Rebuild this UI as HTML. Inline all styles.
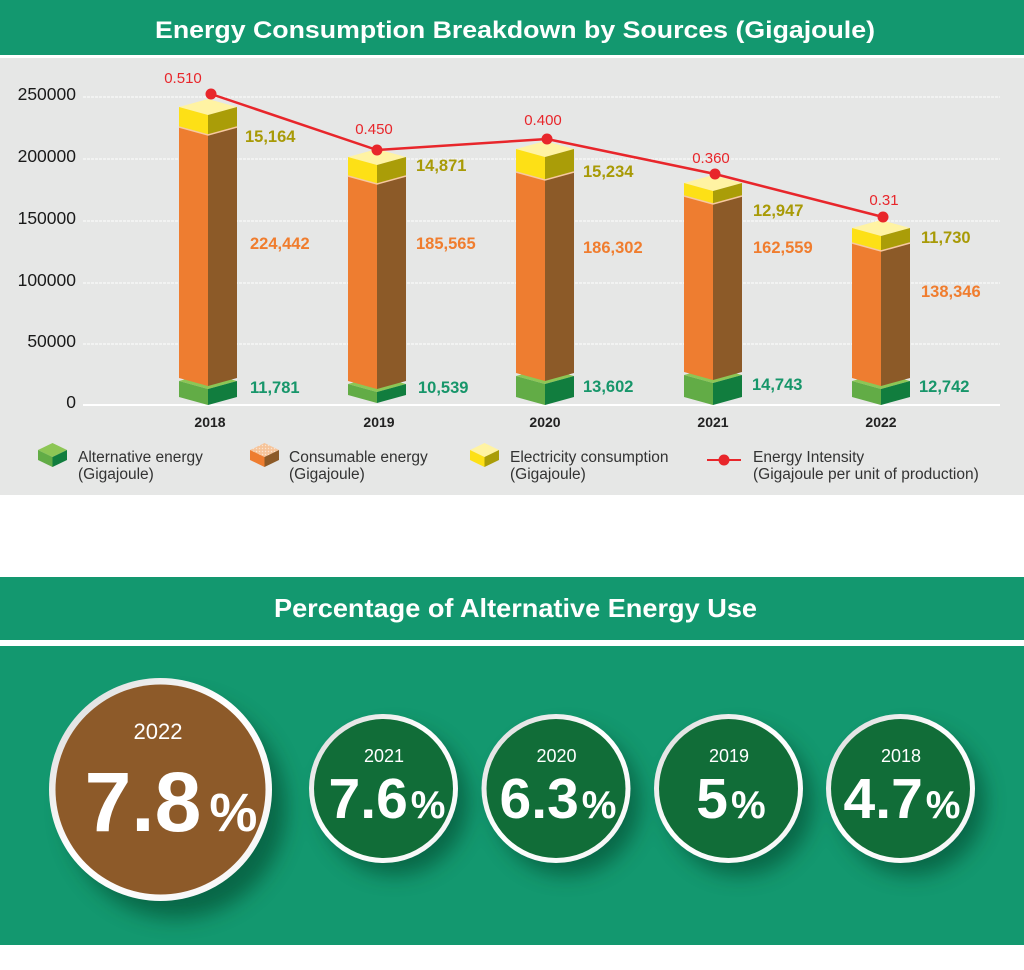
<!DOCTYPE html>
<html>
<head>
<meta charset="utf-8">
<style>
html,body{margin:0;padding:0;background:#fff;}
svg{display:block;}
text{font-family:"Liberation Sans",Arial,sans-serif;}
</style>
</head>
<body>
<svg width="1024" height="970" viewBox="0 0 1024 970" xmlns="http://www.w3.org/2000/svg">
<defs>
  <filter id="sh" x="-50%" y="-50%" width="200%" height="200%">
    <feGaussianBlur stdDeviation="10"/>
  </filter>
  <linearGradient id="ring" x1="0" y1="0" x2="1" y2="1">
    <stop offset="0" stop-color="#d6d6d6"/>
    <stop offset="0.45" stop-color="#ffffff"/>
    <stop offset="1" stop-color="#f4f4f4"/>
  </linearGradient>
  <pattern id="dots" width="3" height="3" patternUnits="userSpaceOnUse">
    <rect width="3" height="3" fill="#f6c49a"/>
    <circle cx="1.5" cy="1.5" r="0.7" fill="#fbe3cf"/>
  </pattern>
</defs>

<!-- Header 1 -->
<rect x="0" y="0" width="1024" height="55" fill="#13986f"/>
<text x="515" y="38" fill="#fff" font-size="24" font-weight="bold" text-anchor="middle" textLength="720" lengthAdjust="spacingAndGlyphs">Energy Consumption Breakdown by Sources (Gigajoule)</text>

<!-- Gray panel -->
<rect x="0" y="58" width="1024" height="437" fill="#e6e7e6"/>

<!-- Gridlines -->
<g stroke="#ffffff" stroke-width="1" stroke-dasharray="3,1">
  <line x1="83" y1="97" x2="1000" y2="97"/>
  <line x1="83" y1="159" x2="1000" y2="159"/>
  <line x1="83" y1="221" x2="1000" y2="221"/>
  <line x1="83" y1="283" x2="1000" y2="283"/>
  <line x1="83" y1="344" x2="1000" y2="344"/>
</g>
<line x1="83" y1="405" x2="1000" y2="405" stroke="#ffffff" stroke-width="2"/>

<!-- Y labels -->
<g font-size="17.5" fill="#1a1a1a" text-anchor="end">
  <text x="76" y="100">250000</text>
  <text x="76" y="162">200000</text>
  <text x="76" y="224">150000</text>
  <text x="76" y="286">100000</text>
  <text x="76" y="347">50000</text>
  <text x="76" y="408">0</text>
</g>

<!-- Bar 2018 -->
<g>
  <polygon points="179,381 208,373 237,381 208,389" fill="#8dc655"/>
  <polygon points="179,381 208,389 208,405 179,397" fill="#62ac46"/>
  <polygon points="208,389 237,381 237,397 208,405" fill="#117d3e"/>
  <polygon points="179,127 208,135 208,386 179,378" fill="#ee7d30"/>
  <polygon points="208,135 237,127 237,378 208,386" fill="#8c5a28"/>
  <polygon points="179,107 208,99 237,107 208,115" fill="#fff3a3"/>
  <polygon points="179,107 208,115 208,135 179,127" fill="#fde016"/>
  <polygon points="208,115 237,107 237,127 208,135" fill="#aa9d08"/>
  <polyline points="179,127 208,135 237,127" fill="none" stroke="#f7c8a0" stroke-width="1.5"/>
</g>
<!-- Bar 2019 -->
<g>
  <polygon points="348,384 377,376 406,384 377,392" fill="#8dc655"/>
  <polygon points="348,384 377,392 377,403 348,395" fill="#62ac46"/>
  <polygon points="377,392 406,384 406,395 377,403" fill="#117d3e"/>
  <polygon points="348,176 377,184 377,389 348,381" fill="#ee7d30"/>
  <polygon points="377,184 406,176 406,381 377,389" fill="#8c5a28"/>
  <polygon points="348,157 377,149 406,157 377,165" fill="#fff3a3"/>
  <polygon points="348,157 377,165 377,184 348,176" fill="#fde016"/>
  <polygon points="377,165 406,157 406,176 377,184" fill="#aa9d08"/>
  <polyline points="348,176 377,184 406,176" fill="none" stroke="#f7c8a0" stroke-width="1.5"/>
</g>
<!-- Bar 2020 -->
<g>
  <polygon points="516,376 545,368 574,376 545,384" fill="#8dc655"/>
  <polygon points="516,376 545,384 545,405 516,397" fill="#62ac46"/>
  <polygon points="545,384 574,376 574,397 545,405" fill="#117d3e"/>
  <polygon points="516,172 545,180 545,381 516,373" fill="#ee7d30"/>
  <polygon points="545,180 574,172 574,373 545,381" fill="#8c5a28"/>
  <polygon points="516,149 545,141 574,149 545,157" fill="#fff3a3"/>
  <polygon points="516,149 545,157 545,180 516,172" fill="#fde016"/>
  <polygon points="545,157 574,149 574,172 545,180" fill="#aa9d08"/>
  <polyline points="516,172 545,180 574,172" fill="none" stroke="#f7c8a0" stroke-width="1.5"/>
</g>
<!-- Bar 2021 -->
<g>
  <polygon points="684,375 713,367 742,375 713,383" fill="#8dc655"/>
  <polygon points="684,375 713,383 713,405 684,397" fill="#62ac46"/>
  <polygon points="713,383 742,375 742,397 713,405" fill="#117d3e"/>
  <polygon points="684,196 713,204 713,380 684,372" fill="#ee7d30"/>
  <polygon points="713,204 742,196 742,372 713,380" fill="#8c5a28"/>
  <polygon points="684,183 713,175 742,183 713,191" fill="#fff3a3"/>
  <polygon points="684,183 713,191 713,204 684,196" fill="#fde016"/>
  <polygon points="713,191 742,183 742,196 713,204" fill="#aa9d08"/>
  <polyline points="684,196 713,204 742,196" fill="none" stroke="#f7c8a0" stroke-width="1.5"/>
</g>
<!-- Bar 2022 -->
<g>
  <polygon points="852,381 881,373 910,381 881,389" fill="#8dc655"/>
  <polygon points="852,381 881,389 881,405 852,397" fill="#62ac46"/>
  <polygon points="881,389 910,381 910,397 881,405" fill="#117d3e"/>
  <polygon points="852,243 881,251 881,386 852,378" fill="#ee7d30"/>
  <polygon points="881,251 910,243 910,378 881,386" fill="#8c5a28"/>
  <polygon points="852,228 881,220 910,228 881,236" fill="#fff3a3"/>
  <polygon points="852,228 881,236 881,251 852,243" fill="#fde016"/>
  <polygon points="881,236 910,228 910,243 881,251" fill="#aa9d08"/>
  <polyline points="852,243 881,251 910,243" fill="none" stroke="#f7c8a0" stroke-width="1.5"/>
</g>

<!-- Energy intensity line -->
<polyline points="211,94 377,150 547,139 715,174 883,217" fill="none" stroke="#e8262b" stroke-width="2.5"/>
<g fill="#e8262b">
  <circle cx="211" cy="94" r="5.5"/>
  <circle cx="377" cy="150" r="5.5"/>
  <circle cx="547" cy="139" r="5.5"/>
  <circle cx="715" cy="174" r="5.5"/>
  <circle cx="883" cy="217" r="5.5"/>
</g>
<g font-size="15" fill="#e8262b" text-anchor="middle">
  <text x="183" y="83">0.510</text>
  <text x="374" y="134">0.450</text>
  <text x="543" y="125">0.400</text>
  <text x="711" y="163">0.360</text>
  <text x="884" y="205">0.31</text>
</g>

<!-- Value labels -->
<g font-size="16.5" font-weight="bold" fill="#a89a06">
  <text x="245" y="142">15,164</text>
  <text x="416" y="171">14,871</text>
  <text x="583" y="177">15,234</text>
  <text x="753" y="216">12,947</text>
  <text x="921" y="243">11,730</text>
</g>
<g font-size="16.5" font-weight="bold" fill="#f07d2e">
  <text x="250" y="249">224,442</text>
  <text x="416" y="249">185,565</text>
  <text x="583" y="253">186,302</text>
  <text x="753" y="253">162,559</text>
  <text x="921" y="297">138,346</text>
</g>
<g font-size="16.5" font-weight="bold" fill="#17966a">
  <text x="250" y="393">11,781</text>
  <text x="418" y="393">10,539</text>
  <text x="583" y="392">13,602</text>
  <text x="752" y="390">14,743</text>
  <text x="919" y="392">12,742</text>
</g>

<!-- Year labels -->
<g font-size="14" font-weight="bold" fill="#222" text-anchor="middle">
  <text x="210" y="427">2018</text>
  <text x="379" y="427">2019</text>
  <text x="545" y="427">2020</text>
  <text x="713" y="427">2021</text>
  <text x="881" y="427">2022</text>
</g>

<!-- Legend -->
<g>
  <polygon points="38,450 52.5,443 67,450 52.5,457" fill="#8dc655"/>
  <polygon points="38,450 52.5,457 52.5,467 38,460" fill="#62ac46"/>
  <polygon points="52.5,457 67,450 67,460 52.5,467" fill="#117d3e"/>

  <polygon points="250,450 264.5,443 279,450 264.5,457" fill="url(#dots)"/>
  <polygon points="250,450 264.5,457 264.5,467 250,460" fill="#ee7d30"/>
  <polygon points="264.5,457 279,450 279,460 264.5,467" fill="#8c5a28"/>

  <polygon points="470,450 484.5,443 499,450 484.5,457" fill="#fff3a3"/>
  <polygon points="470,450 484.5,457 484.5,467 470,460" fill="#fde016"/>
  <polygon points="484.5,457 499,450 499,460 484.5,467" fill="#aa9d08"/>

  <line x1="707" y1="460" x2="741" y2="460" stroke="#e8262b" stroke-width="2"/>
  <circle cx="724" cy="460" r="5.5" fill="#e8262b"/>
</g>
<g font-size="15.5" fill="#333">
  <text x="78" y="462">Alternative energy</text>
  <text x="78" y="479">(Gigajoule)</text>
  <text x="289" y="462">Consumable energy</text>
  <text x="289" y="479">(Gigajoule)</text>
  <text x="510" y="462">Electricity consumption</text>
  <text x="510" y="479">(Gigajoule)</text>
  <text x="753" y="462">Energy Intensity</text>
  <text x="753" y="479">(Gigajoule per unit of production)</text>
</g>

<!-- Header 2 -->
<rect x="0" y="577" width="1024" height="63" fill="#13986f"/>
<text x="515.5" y="617" fill="#fff" font-size="26" font-weight="bold" text-anchor="middle" textLength="483" lengthAdjust="spacingAndGlyphs">Percentage of Alternative Energy Use</text>

<!-- Green panel -->
<rect x="0" y="646" width="1024" height="299" fill="#13986f"/>

<!-- Circle shadows -->
<g fill="#063f25" opacity="0.55" filter="url(#sh)">
  <circle cx="176" cy="808" r="110"/>
  <circle cx="395" cy="802" r="73"/>
  <circle cx="567" cy="802" r="73"/>
  <circle cx="740" cy="802" r="73"/>
  <circle cx="912" cy="802" r="73"/>
</g>

<!-- Circles -->
<circle cx="160.5" cy="789.5" r="111.5" fill="url(#ring)"/>
<circle cx="160.5" cy="789.5" r="105" fill="#8d5a29"/>

<circle cx="383.5" cy="788.5" r="74.5" fill="url(#ring)"/>
<circle cx="383.5" cy="788.5" r="69.5" fill="#116d38"/>

<circle cx="556" cy="788.5" r="74.5" fill="url(#ring)"/>
<circle cx="556" cy="788.5" r="69.5" fill="#116d38"/>

<circle cx="728.5" cy="788.5" r="74.5" fill="url(#ring)"/>
<circle cx="728.5" cy="788.5" r="69.5" fill="#116d38"/>

<circle cx="900.5" cy="788.5" r="74.5" fill="url(#ring)"/>
<circle cx="900.5" cy="788.5" r="69.5" fill="#116d38"/>

<!-- Circle text -->
<g fill="#fff" text-anchor="middle">
  <text x="158" y="739" font-size="22">2022</text>
  <text x="171" y="831" font-weight="bold"><tspan font-size="84">7.8</tspan><tspan font-size="54" dx="8">%</tspan></text>

  <text x="384" y="762" font-size="18">2021</text>
  <text x="387" y="818" font-weight="bold"><tspan font-size="57">7.6</tspan><tspan font-size="39" dx="3">%</tspan></text>

  <text x="556.5" y="762" font-size="18">2020</text>
  <text x="558" y="818" font-weight="bold"><tspan font-size="57">6.3</tspan><tspan font-size="39" dx="3">%</tspan></text>

  <text x="729" y="762" font-size="18">2019</text>
  <text x="731" y="818" font-weight="bold"><tspan font-size="57">5</tspan><tspan font-size="39" dx="3">%</tspan></text>

  <text x="901" y="762" font-size="18">2018</text>
  <text x="902" y="818" font-weight="bold"><tspan font-size="57">4.7</tspan><tspan font-size="39" dx="3">%</tspan></text>
</g>
</svg>
</body>
</html>
